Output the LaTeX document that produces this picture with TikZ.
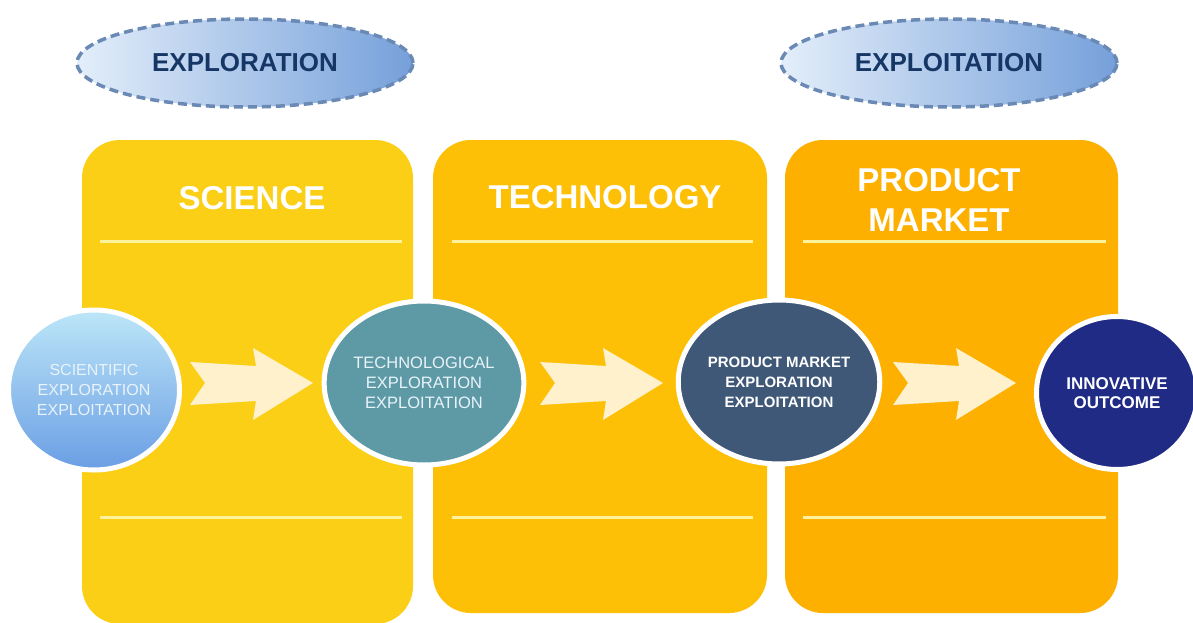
\documentclass[tikz,border=0pt]{standalone}
\usepackage{fontspec}
\setmainfont{Liberation Sans}
\usetikzlibrary{shapes.geometric}

\definecolor{panelA}{HTML}{FCCF17}
\definecolor{panelB}{HTML}{FDC006}
\definecolor{panelC}{HTML}{FDB000}
\definecolor{ruleline}{HTML}{FFF29C}
\definecolor{arrowfill}{HTML}{FFF1CC}
\definecolor{phaseL}{HTML}{E3EEFA}
\definecolor{phaseR}{HTML}{76A0DA}
\definecolor{phaseBorder}{HTML}{6A89B4}
\definecolor{phaseText}{HTML}{163766}
\definecolor{sciTop}{HTML}{BDE6F8}
\definecolor{sciBot}{HTML}{6A9EE4}
\definecolor{techFill}{HTML}{5E9AA6}
\definecolor{prodFill}{HTML}{3F5878}
\definecolor{innoFill}{HTML}{1F2B84}
\definecolor{softText}{HTML}{E9F3FA}

\tikzset{
  panel/.style={rectangle, rounded corners=38pt, inner sep=0pt, draw=none},
  title/.style={text=white, align=center, font=\fontsize{33}{40}\selectfont\bfseries},
  rule/.style={draw=ruleline, line width=3pt},
  phase/.style={ellipse, inner sep=0pt, minimum width=336pt, minimum height=88pt,
    left color=phaseL, right color=phaseR, draw=phaseBorder, line width=3.5pt,
    dash pattern=on 9pt off 5pt, text=phaseText, font=\fontsize{26}{30}\selectfont\bfseries},
  stage/.style={ellipse, inner sep=0pt, draw=white, line width=5pt, align=center},
  flowarrow/.pic={
    \fill[arrowfill] (0,-21) -- (66,-17) -- (63,-35) -- (123,0) -- (63,37)
      -- (66,18) -- (0,22) -- (15,0) -- cycle;
  }
}

\begin{document}
\begin{tikzpicture}[x=1pt, y=-1pt]
\useasboundingbox[fill=white] (0,0) rectangle (1193,623);

% three coloured columns
\node[panel, fill=panelA, minimum width=331pt, minimum height=484pt] (science) at (247.5,382) {};
\node[panel, fill=panelB, minimum width=334pt, minimum height=473pt] (technology) at (600,376.5) {};
\node[panel, fill=panelC, minimum width=333pt, minimum height=473pt] (market) at (951.5,376.5) {};

% column headings
\node[title] (tscience) at (252,198) {SCIENCE};
\node[title] (ttechnology) at (605,197) {TECHNOLOGY};
\node[title] (tmarket) at (939,200) {PRODUCT\\MARKET};

% separator rules
\draw[rule] (100,241) -- (402,241);
\draw[rule] (452,241) -- (753,241);
\draw[rule] (803,241) -- (1106,241);
\draw[rule] (100,517) -- (402,517);
\draw[rule] (452,517) -- (753,517);
\draw[rule] (803,517) -- (1106,517);

% phase labels
\node[phase] (exploration) at (245,63) {EXPLORATION};
\node[phase] (exploitation) at (949,63) {EXPLOITATION};

% flow arrows between the stages
\pic at (190,383) {flowarrow};
\pic at (540,383) {flowarrow};
\pic at (893,383) {flowarrow};

% stage discs
\node[stage, top color=sciTop, bottom color=sciBot, minimum width=171pt, minimum height=160pt,
  text=softText, font=\fontsize{16}{20}\selectfont] (scientific) at (94,390)
  {SCIENTIFIC\\EXPLORATION\\EXPLOITATION};
\node[stage, fill=techFill, minimum width=173pt, minimum height=164pt,
  text=softText, font=\fontsize{16.5}{20}\selectfont] (technological) at (424,383)
  {TECHNOLOGICAL\\EXPLORATION\\EXPLOITATION};
\node[stage, fill=prodFill, minimum width=173pt, minimum height=164pt,
  text=white, font=\fontsize{15}{20}\selectfont\bfseries] (productmarket) at (779,382)
  {PRODUCT MARKET\\EXPLORATION\\EXPLOITATION};
\node[stage, fill=innoFill, minimum width=161pt, minimum height=153pt,
  text=white, font=\fontsize{17}{19}\selectfont\bfseries] (outcome) at (1117,393)
  {INNOVATIVE\\OUTCOME};
\end{tikzpicture}
\end{document}
